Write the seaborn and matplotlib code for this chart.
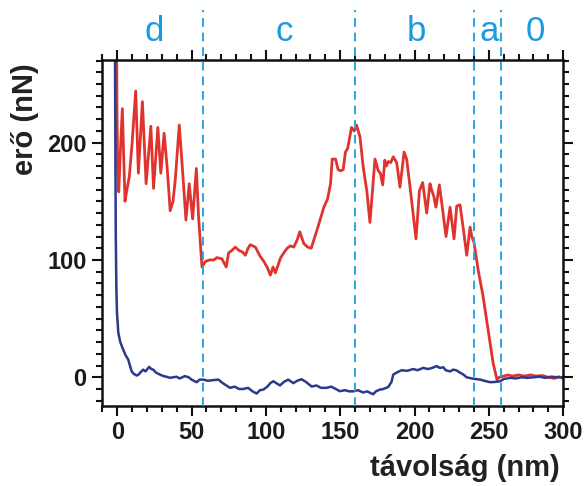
import numpy as np
import pandas as pd
import matplotlib
matplotlib.use('Agg')
import matplotlib.pyplot as plt
from matplotlib.ticker import MultipleLocator
import seaborn as sns

# megközelítő (red) görbe
red_x = [-0.4, -0.2, 0.3, 1.0, 2.0, 3.4, 5.2, 6.5, 8.1, 10.0, 12.4, 14.2, 16.9, 19.4, 22.6, 24.4,
         27.3, 29.3, 31.5, 33.5, 35.6, 37.5, 39.0, 41.7, 44.0, 46.2, 48.4, 50.7, 53.2, 54.7, 57.0,
         59.2, 62.0, 65.0, 67.0, 70.4, 73.3, 74.9, 77.0, 79.4, 82.0, 84.0, 86.2, 88.0, 89.5, 92.9,
         96.2, 98.5, 100.8, 103.0, 104.8, 106.4, 109.8, 112.0, 114.3, 116.5, 118.8, 121.0, 122.8,
         125.5, 128.0, 130.5, 133.0, 135.0, 139.0, 141.5, 143.5, 144.6, 146.9, 148.6, 150.3, 152.0,
         153.5, 155.0, 157.6, 159.5, 161.0, 163.3, 165.5, 168.0, 170.0, 173.4, 175.6, 177.0, 178.6,
         180.0, 181.0, 182.4, 184.0, 185.7, 188.0, 190.2, 193.0, 194.7, 197.0, 199.0, 201.0, 203.3,
         205.5, 208.2, 210.4, 211.5, 213.0, 214.4, 216.7, 219.0, 221.2, 223.9, 226.6, 228.4, 230.6,
         233.0, 235.1, 237.4, 238.5, 240.0, 243.0, 246.0, 249.0, 252.9, 255.5, 257.0, 260, 263, 266,
         270, 274, 278, 282, 286, 290, 294, 297, 300]
red_y = [275, 230, 175, 158, 190, 229, 150, 160, 171, 200, 244, 174, 235, 165, 214, 161,
         213, 174, 208, 180, 142, 150, 168, 215, 175, 134, 165, 135, 178, 137, 94,
         98.6, 100, 100, 102, 101, 94, 106, 108, 111, 108, 107, 104, 110, 113, 111,
         103, 99, 94, 87, 94, 89, 101.6, 106, 110, 112, 111, 117, 124,
         114, 111, 110, 120, 128, 145, 152, 165, 186, 186, 177, 176, 177,
         192, 195, 213, 210, 215, 205, 179, 158, 132, 186, 176, 174, 164,
         185, 180, 184, 183, 188, 183, 162, 192, 186, 162, 140, 118, 159,
         166, 140, 165, 160, 154, 145, 164, 142, 120, 145, 118, 146, 147,
         125, 104, 128, 120, 115, 90, 70, 45, 12, -2, 0, 1, 2, 1,
         2, 1, 2, 1, 1.5, 0, -1, 0.5, -1]

# visszahúzó (blue) görbe
blue_x = [-1.5, -1.3, -1.0, -0.6, -0.2, 0.7, 2, 4, 5.5, 7.4, 8.5, 9.7, 11, 13, 14, 15.5, 17.4, 19,
          21.4, 23, 24.2, 26, 28.7, 31, 33, 35.4, 37.5, 39.9, 42, 45.5, 48, 50, 53.4, 55.5, 57.9,
          61, 64, 68, 71, 75.8, 79, 82, 84.8, 88, 91, 93.8, 96, 98.3, 101, 103, 105, 107, 109.5,
          112, 115, 118.5, 121, 124, 127, 130.8, 134, 137, 140.9, 144, 147, 149.8, 153, 156,
          158.8, 162, 165.5, 168, 172.2, 174, 176.7, 179, 182.3, 184.5, 185.7, 188, 191.3, 195,
          199.2, 202, 205.9, 209, 212, 214.9, 217, 219.4, 221, 223.9, 226, 228.4, 230.5, 232.9,
          235, 238.5, 241, 244.1, 247, 250.8, 254, 257.6, 260, 264.3, 268, 272, 276, 280, 284,
          288, 292, 296, 300]
blue_y = [275, 200, 120, 75, 55, 38, 30, 23.5, 19, 15, 10, 5, 3, 1.5, 2, 4, 6.5, 5,
          8.8, 7, 6.5, 4, 2.3, 1, 0.5, -0.5, 0, 0.4, -1, 1, 0, -2, -4.2, -2, -2,
          -3, -2.5, -2, -5, -9, -8, -10, -10, -9, -12, -13.9, -11, -10.5, -8, -5, -3.4, -5, -7,
          -4, -2, -5, -3, -1.7, -4, -7.9, -7, -9, -9, -8, -10, -11.9, -11, -12,
          -12, -11, -13, -12, -14.5, -12, -10.5, -10, -8.3, -4, 2.3, 4, 6, 5.5,
          7, 6, 8, 7, 8, 9.5, 8, 8.5, 6, 5, 6.5, 5.8, 4, 2.3,
          0, -1, -1.5, -2, -3, -4.2, -4, -3.4, -1.5, -0.5, -1, 0, -0.5, 0, 0.5,
          -0.5, 0.5, 0, 0]

# szakaszhatárok és betűk
borders = [58, 160, 240, 258]
region_labels = ['d', 'c', 'b', 'a', '0']
region_pos = [25, 112, 201, 250, 281]

red_df = pd.DataFrame({'x': red_x, 'y': red_y})
blue_df = pd.DataFrame({'x': blue_x, 'y': blue_y})

sns.set_style('ticks')
plt.rcParams['font.family'] = ['Liberation Sans', 'DejaVu Sans']
plt.rcParams['font.weight'] = 'bold'

fig = plt.figure(figsize=(5.86, 4.86), dpi=100)
ax = fig.add_axes([0.174, 0.1646, 0.787, 0.712])

sns.lineplot(data=red_df, x='x', y='y', sort=False, estimator=None, color='#e0332e',
             linewidth=2.0, ax=ax)
sns.lineplot(data=blue_df, x='x', y='y', sort=False, estimator=None, color='#2a3a8c',
             linewidth=1.8, ax=ax)

for b in borders:
    ax.axvline(b, ymin=0, ymax=1.143, color='#2aa6e0', linestyle=(0, (4.5, 3)),
               linewidth=1.4, clip_on=False, zorder=5)

for lab, px in zip(region_labels, region_pos):
    ax.text(px, 1.056, lab, transform=ax.get_xaxis_transform(), ha='center',
            va='baseline', fontsize=25, fontweight='normal', color='#1a9be0')

ax.set_xlim(-10.3, 300)
ax.set_ylim(-24.5, 270.5)
ax.set_xticks([0, 50, 100, 150, 200, 250, 300])
ax.set_yticks([0, 100, 200])
ax.xaxis.set_minor_locator(MultipleLocator(10))
ax.yaxis.set_minor_locator(MultipleLocator(10))
ax.tick_params(which='both', direction='out', top=True, right=True, width=1.5,
               color='#111111', labelsize=17, labelcolor='#1a1a1a')
ax.tick_params(which='major', length=7, pad=4)
ax.tick_params(which='minor', length=4)
for s in ax.spines.values():
    s.set_visible(True)
    s.set_linewidth(1.8)
    s.set_color('#111111')

ax.set_xlabel('távolság (nm)', fontsize=21, fontweight='bold', color='#222222',
              ha='right', va='baseline')
ax.xaxis.set_label_coords(0.9935, -0.203)
ax.set_ylabel('erő (nN)', fontsize=21, fontweight='bold', color='#222222',
              ha='center', va='center')
ax.yaxis.set_label_coords(-0.167, 0.828)

fig.savefig('out.png', dpi=100)
